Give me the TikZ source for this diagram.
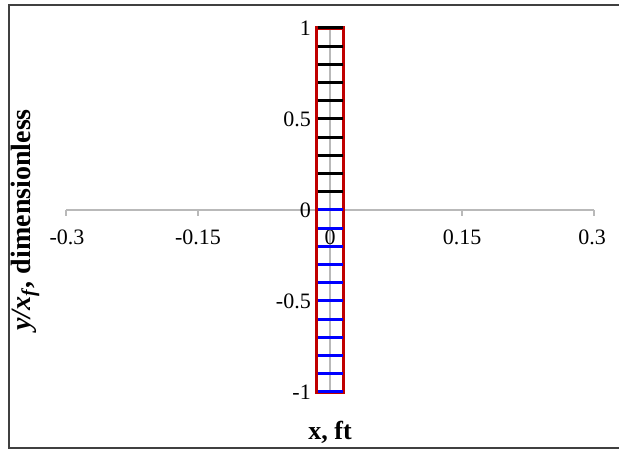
\documentclass[tikz,border=0pt]{standalone}
\usepackage{fontspec}
\setmainfont{Liberation Serif}
\begin{document}
\begin{tikzpicture}[x=1pt,y=1pt,
  axisline/.style={draw=gray!55, line width=1.2pt},
  ticklbl/.style={font=\fontsize{22}{26}\selectfont, inner sep=0pt},
  wallline/.style={draw={rgb,255:red,192;green,0;blue,0}, line width=3.6pt},
  upperrung/.style={draw=black, line width=3pt},
  lowerrung/.style={draw={rgb,255:red,0;green,0;blue,255}, line width=3pt},
  framebox/.style={draw={rgb,255:red,64;green,64;blue,64}, line width=2pt}]
\useasboundingbox (0,0) rectangle (619,450);
\clip (0,0) rectangle (619,450);
% outer frame (right edge lies outside the picture)
\draw[framebox] (9,2) rectangle (640,445);
% axes
\coordinate (xl) at (66,240);
\coordinate (xr) at (594,240);
\coordinate (yt) at (330,422);
\coordinate (yb) at (330,58);
\draw[axisline] (xl) -- (xr);
\draw[axisline] (yb) -- (yt);
\foreach \px in {66,198,330,462,594}{
  \draw[axisline] (\px,240) -- (\px,234);
}
% x tick labels
\node[ticklbl] (xm30) at (67,213) {-0.3};
\node[ticklbl] (xm15) at (198,213) {-0.15};
\node[ticklbl] (x0) at (330,213) {0};
\node[ticklbl] (xp15) at (462,213) {0.15};
\node[ticklbl] (xp30) at (592,213) {0.3};
% y tick labels
\node[ticklbl, anchor=east] (y1) at (311,422) {1};
\node[ticklbl, anchor=east] (y05) at (311,331) {0.5};
\node[ticklbl, anchor=east] (y0) at (311,240) {0};
\node[ticklbl, anchor=east] (ym05) at (311,149) {-0.5};
\node[ticklbl, anchor=east] (ym1) at (311,58) {-1};
% ladder walls
\draw[wallline] (316.5,58) rectangle (343.5,422);
% rungs
\foreach \k in {1,...,10}{
  \draw[upperrung] (317.5,{240+18.2*\k}) -- (342.5,{240+18.2*\k});
}
\foreach \k in {0,...,10}{
  \draw[lowerrung] (317.5,{240-18.2*\k}) -- (342.5,{240-18.2*\k});
}
% axis titles
\node[font=\fontsize{26}{30}\selectfont\bfseries, inner sep=0pt] (xt) at (330,18) {x, ft};
\node[font=\fontsize{28}{32}\selectfont\bfseries, rotate=90, inner sep=0pt] (yttl) at (25,230) {\textit{y/x}\textsubscript{\textit{f}}, dimensionless};
\end{tikzpicture}
\end{document}
